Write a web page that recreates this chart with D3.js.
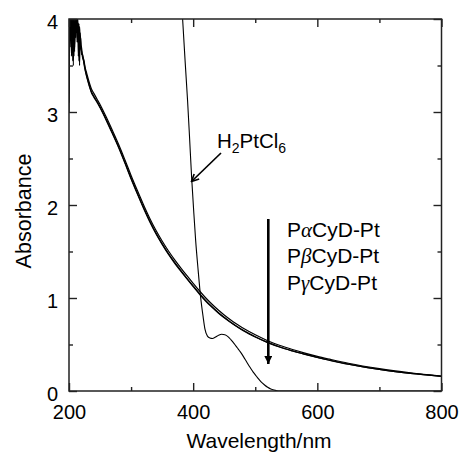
<!DOCTYPE html>
<html><head><meta charset="utf-8">
<script src="https://cdn.jsdelivr.net/npm/d3@7/dist/d3.min.js"></script>
<style>body{margin:0;background:#fff}svg{display:block}</style>
</head><body>
<svg id="c" width="461" height="453"></svg>
<script>
// ---- data ----
const wavelengths = [200,201,202,203,204,205,206,207,208,209,210,211,212,213,214,215,216,217,218,219,220,222,224,226,228,230,233,236,240,245,250,260,270,280,290,300,310,320,330,340,350,360,370,380,390,400,410,420,430,440,450,460,470,480,490,500,520,540,560,580,600,620,650,700,750,800];
const pAlphaAbs = [3.0,3.9,4.0,3.7,4.0,3.85,4.0,3.5,4.0,3.7,4.0,3.85,4.0,3.75,4.0,3.6,3.95,3.5,3.85,3.72,3.7,3.6,3.56,3.48,3.43,3.38,3.31,3.25,3.2,3.14,3.08,2.945,2.8,2.65,2.487,2.318,2.158,2.003,1.858,1.728,1.613,1.508,1.413,1.325,1.24,1.158,1.078,1.003,0.935,0.873,0.817,0.766,0.72,0.677,0.639,0.604,0.541,0.489,0.446,0.408,0.373,0.342,0.298,0.24,0.196,0.161];
const pBetaAbs = [3.1,4.0,3.8,4.0,3.9,4.0,3.55,4.0,3.6,4.0,3.95,4.0,3.9,4.0,3.85,3.95,3.55,3.92,3.78,3.8,3.62,3.62,3.52,3.45,3.4,3.35,3.28,3.22,3.17,3.115,3.055,2.92,2.775,2.625,2.46,2.29,2.13,1.975,1.83,1.7,1.585,1.48,1.385,1.297,1.212,1.13,1.05,0.975,0.908,0.847,0.792,0.742,0.697,0.655,0.618,0.584,0.523,0.473,0.432,0.396,0.362,0.331,0.289,0.232,0.19,0.158];
const pGammaAbs = [3.2,4.0,3.95,4.0,3.6,4.0,3.9,4.0,3.95,3.65,4.0,3.8,4.0,3.9,4.0,3.8,3.9,3.65,3.8,3.68,3.66,3.58,3.54,3.46,3.39,3.34,3.27,3.21,3.16,3.105,3.045,2.91,2.765,2.615,2.45,2.28,2.12,1.965,1.82,1.69,1.576,1.471,1.376,1.289,1.205,1.123,1.043,0.968,0.902,0.842,0.787,0.738,0.693,0.651,0.614,0.58,0.52,0.47,0.43,0.394,0.36,0.33,0.288,0.231,0.189,0.157];
const h2ptcl6WL = [383,387,391,394,397.5,401,404,408,412,416,419,423,427,431,436,441,446,451,456,461,466,471,476,481,486,491,497,503,509,515,520,525,530,535,540,560,600,700,800];
const h2ptcl6Abs = [4.0,3.55,3.12,2.75,2.3,1.92,1.62,1.3,1.01,0.8,0.665,0.59,0.57,0.565,0.58,0.6,0.61,0.605,0.585,0.55,0.51,0.465,0.42,0.37,0.315,0.26,0.2,0.15,0.1,0.065,0.04,0.022,0.01,0.003,0,0,0,0,0];
const xTickLabels = [200,400,600,800];
const xMinorTicks = [300,500,700];
const yTickLabels = [0,1,2,3,4];
const yMinorTicks = [0.5,1.5,2.5,3.5];
const seriesLabels = [["P","α","CyD-Pt"],["P","β","CyD-Pt"],["P","γ","CyD-Pt"]];

// ---- layout ----
const svg = d3.select("#c");
const L = 69, R = 441.5, T = 19, B = 391;
const x = d3.scaleLinear().domain([200,800]).range([L,R]);
const y = d3.scaleLinear().domain([0,4]).range([B,T]);
const FONT = "'Liberation Sans', Arial, Helvetica, sans-serif";
const AX = "#222";

svg.append("defs").append("clipPath").attr("id","clip")
  .append("rect").attr("x",L).attr("y",T).attr("width",R-L).attr("height",B-T);

const line = d3.line().x(d=>x(d[0])).y(d=>y(d[1])).curve(d3.curveMonotoneX);
const plot = svg.append("g").attr("clip-path","url(#clip)");

[pAlphaAbs,pBetaAbs,pGammaAbs].forEach(vals=>{
  plot.append("path").datum(wavelengths.map((w,i)=>[w,vals[i]]))
    .attr("d",line).attr("fill","none").attr("stroke","#000").attr("stroke-width",1.2);
});
plot.append("path").datum(h2ptcl6WL.map((w,i)=>[w,h2ptcl6Abs[i]]))
  .attr("d",line).attr("fill","none").attr("stroke","#000").attr("stroke-width",1.1);

// ---- axes ----
function styleAxis(g){
  g.select(".domain").remove();
  g.selectAll("line").attr("stroke",AX).attr("stroke-width",1.4);
  g.selectAll("text").attr("font-family",FONT).attr("font-size",20).attr("fill","#000");
}
const xAll = xTickLabels.concat(xMinorTicks).sort((a,b)=>a-b);
const yAll = yTickLabels.concat(yMinorTicks).sort((a,b)=>a-b);
const isMajX = d=>xTickLabels.includes(d), isMajY = d=>yTickLabels.includes(d);

const gB = svg.append("g").attr("transform",`translate(0,${B})`)
  .call(d3.axisBottom(x).tickValues(xAll).tickSize(-8).tickFormat(d=>isMajX(d)?d:""));
styleAxis(gB);
gB.selectAll(".tick line").attr("y2",d=>isMajX(d)?-8:-4);
gB.selectAll(".tick text").attr("y",27.5).attr("dy",0);

const gT = svg.append("g").attr("transform",`translate(0,${T})`)
  .call(d3.axisTop(x).tickValues(xAll).tickSize(-8).tickFormat(""));
styleAxis(gT);
gT.selectAll(".tick line").attr("y2",d=>isMajX(d)?8:4);

const gL = svg.append("g").attr("transform",`translate(${L},0)`)
  .call(d3.axisLeft(y).tickValues(yAll).tickSize(-8).tickFormat(d=>isMajY(d)?d:""));
styleAxis(gL);
gL.selectAll(".tick line").attr("x2",d=>isMajY(d)?8:4);
gL.selectAll(".tick text").attr("x",-11).attr("dy",0).attr("y",9.5);

const gR = svg.append("g").attr("transform",`translate(${R},0)`)
  .call(d3.axisRight(y).tickValues(yAll).tickSize(-8).tickFormat(""));
styleAxis(gR);
gR.selectAll(".tick line").attr("x2",d=>isMajY(d)?-8:-4);

svg.append("rect").attr("x",L).attr("y",T).attr("width",R-L).attr("height",B-T)
  .attr("fill","none").attr("stroke",AX).attr("stroke-width",1.5);

// axis titles
svg.append("text").attr("x",259).attr("y",447.5).attr("text-anchor","middle")
  .attr("font-family",FONT).attr("font-size",21).text("Wavelength/nm");
svg.append("text").attr("transform","translate(31,211) rotate(-90)").attr("text-anchor","middle")
  .attr("font-family",FONT).attr("font-size",21.5).text("Absorbance");

// ---- annotations ----
svg.append("defs").html(`
  <marker id="ah1" viewBox="0 0 10 10" refX="9" refY="5" markerWidth="9" markerHeight="9" markerUnits="userSpaceOnUse" orient="auto">
    <path d="M1,1 L9,5 L1,9" fill="none" stroke="#000" stroke-width="1.8"/></marker>
  <marker id="ah2" viewBox="0 0 10 10" refX="10" refY="5" markerWidth="11" markerHeight="8" markerUnits="userSpaceOnUse" orient="auto">
    <path d="M0,0 L10,5 L0,10 Z" fill="#000"/></marker>`);

const h2 = svg.append("text").attr("x",217).attr("y",148).attr("font-family",FONT).attr("font-size",20.5);
h2.append("tspan").text("H");
h2.append("tspan").attr("font-size",14).attr("dy",5).text("2");
h2.append("tspan").attr("dy",-5).text("PtCl");
h2.append("tspan").attr("font-size",14).attr("dy",5).text("6");

svg.append("line").attr("x1",221).attr("y1",153).attr("x2",191.5).attr("y2",181.5)
  .attr("stroke","#000").attr("stroke-width",1.7).attr("marker-end","url(#ah1)");

svg.append("line").attr("x1",268.3).attr("y1",219).attr("x2",268.3).attr("y2",364)
  .attr("stroke","#000").attr("stroke-width",2.6).attr("marker-end","url(#ah2)");

seriesLabels.forEach((parts,i)=>{
  const t = svg.append("text").attr("x",287).attr("y",237+i*26.3)
    .attr("font-family",FONT).attr("font-size",21);
  t.append("tspan").text(parts[0]);
  t.append("tspan").attr("font-family","'Liberation Serif', 'DejaVu Serif', serif").attr("font-style","italic").text(parts[1]);
  t.append("tspan").text(parts[2]);
});
</script>
</body></html>
